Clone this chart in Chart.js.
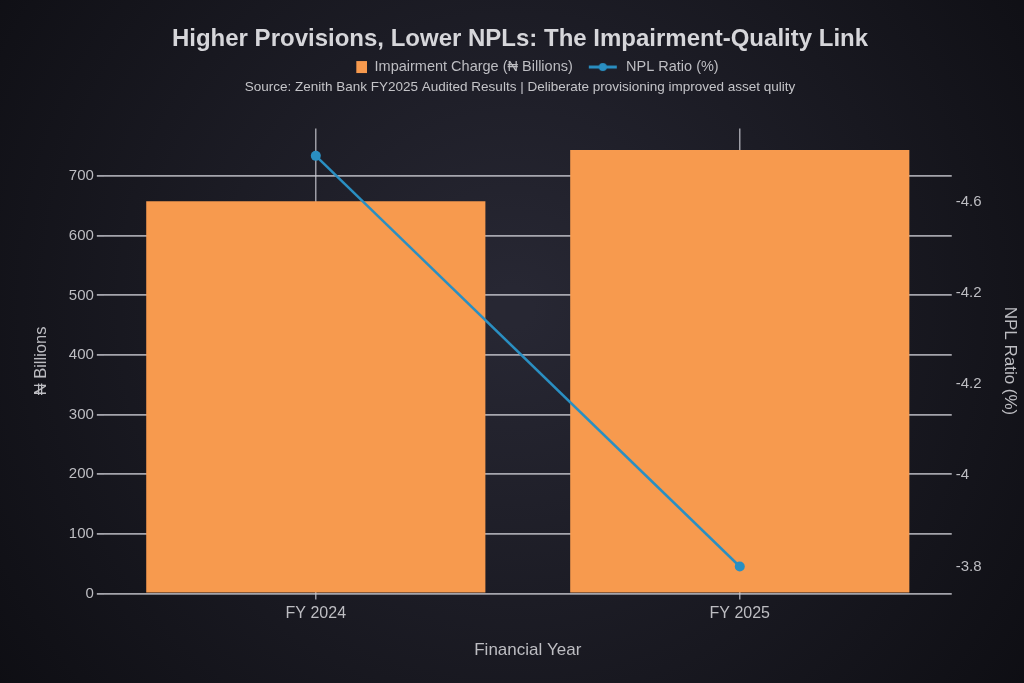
<!DOCTYPE html>
<html>
<head>
<meta charset="utf-8">
<script src="https://cdn.jsdelivr.net/npm/chart.js@4/dist/chart.umd.min.js"></script>
<style>
  html, body { margin: 0; padding: 0; background: #15151c; }
  #wrap { width: 1024px; height: 683px; position: relative; }
</style>
</head>
<body>
<div id="wrap"><canvas id="c" width="1024" height="683"></canvas></div>
<script>
// ---- data ----
const categories = ['FY 2024', 'FY 2025'];
const impairmentCharge = [658, 744];      // ₦ Billions
const nplRatio = [4.7, 3.8];              // %
const leftTickValues = [0, 100, 200, 300, 400, 500, 600, 700];
const rightTickValues = [4.6, 4.4, 4.2, 4.0, 3.8];
const rightTickLabels = ['-4.6', '-4.2', '-4.2', '-4', '-3.8'];

const ORANGE = '#F79A4E';
const BLUE = '#2A8FC2';
const TEXT = '#bdbdc2';
const FONT = 'Liberation Sans';

function makeIcon(kind) {
  const cv = document.createElement('canvas');
  cv.width = 46; cv.height = 14;
  const g = cv.getContext('2d');
  if (kind === 'bar') {
    g.fillStyle = ORANGE; g.fillRect(35, 1, 11, 12);
  } else {
    g.strokeStyle = BLUE; g.lineWidth = 3;
    g.beginPath(); g.moveTo(16, 7); g.lineTo(44, 7); g.stroke();
    g.fillStyle = BLUE; g.beginPath(); g.arc(30, 7, 4, 0, Math.PI * 2); g.fill();
  }
  return cv;
}
const icons = { bar: makeIcon('bar'), line: makeIcon('line') };

const bgPlugin = {
  id: 'bg',
  beforeDraw(chart) {
    const {ctx, width, height} = chart;
    const g = ctx.createRadialGradient(width * 0.5, height * 0.45, 20, width * 0.5, height * 0.45, width * 0.65);
    g.addColorStop(0, '#272733');
    g.addColorStop(1, '#0d0d12');
    ctx.save();
    ctx.fillStyle = g;
    ctx.fillRect(0, 0, width, height);
    ctx.restore();
  }
};

new Chart(document.getElementById('c'), {
  data: {
    labels: categories,
    datasets: [
      {
        type: 'line',
        label: 'NPL Ratio (%)',
        data: nplRatio,
        yAxisID: 'y1',
        borderColor: BLUE,
        backgroundColor: BLUE,
        borderWidth: 2.5,
        pointRadius: 5,
        pointBackgroundColor: BLUE,
        pointBorderWidth: 0,
        order: 0
      },
      {
        type: 'bar',
        label: 'Impairment Charge (₦ Billions)',
        data: impairmentCharge,
        yAxisID: 'y',
        backgroundColor: ORANGE,
        borderWidth: 0,
        barPercentage: 0.8,
        categoryPercentage: 1.0,
        order: 1
      }
    ]
  },
  options: {
    responsive: false,
    animation: false,
    layout: { padding: { left: 16, right: 0, top: 12, bottom: 22 } },
    plugins: {
      title: {
        display: true,
        text: 'Higher Provisions, Lower NPLs: The Impairment-Quality Link',
        color: '#d6d6da',
        font: { family: FONT, size: 24, weight: 'bold' },
        padding: { top: 13, bottom: 6 }
      },
      legend: {
        display: true,
        weight: 1700,
        labels: {
          color: TEXT,
          font: { family: FONT, size: 14.5 },
          usePointStyle: true,
          pointStyleWidth: 46,
          boxHeight: 12,
          padding: 0,
          generateLabels(chart) {
            const items = Chart.defaults.plugins.legend.labels.generateLabels(chart);
            items.forEach(it => {
              it.pointStyle = it.datasetIndex === 1 ? icons.bar : icons.line;
            });
            items.sort((a, b) => b.datasetIndex - a.datasetIndex);
            return items;
          }
        }
      },
      subtitle: {
        display: true,
        text: 'Source: Zenith Bank FY2025 Audited Results | Deliberate provisioning improved asset qulity',
        color: '#c4c4c8',
        font: { family: FONT, size: 13.5 },
        padding: { top: -5, bottom: 33 }
      },
      tooltip: { enabled: false }
    },
    scales: {
      x: {
        offset: true,
        grid: {
          offset: false,
          color: 'rgba(200,200,208,0.75)',
          lineWidth: 1.5,
          drawTicks: true,
          tickLength: 6
        },
        border: { display: false },
        ticks: { color: TEXT, font: { family: FONT, size: 16 }, padding: 5 },
        title: {
          display: true,
          text: 'Financial Year',
          color: TEXT,
          font: { family: FONT, size: 17 },
          padding: { top: 12, bottom: 0 }
        }
      },
      y: {
        position: 'left',
        min: 0,
        max: 780,
        afterBuildTicks(axis) { axis.ticks = leftTickValues.map(v => ({ value: v })); },
        grid: {
          color: 'rgba(200,200,208,0.8)',
          lineWidth: 1.8,
          tickLength: 7
        },
        border: { display: false },
        ticks: { color: TEXT, font: { family: FONT, size: 15 }, padding: 3 },
        title: {
          display: true,
          text: '₦ Billions',
          color: TEXT,
          font: { family: FONT, size: 16.5 },
          padding: { top: 16, bottom: 14 }
        }
      },
      y1: {
        position: 'right',
        min: 3.741,
        max: 4.76,
        afterBuildTicks(axis) { axis.ticks = rightTickValues.map(v => ({ value: v })); },
        grid: { display: false, drawOnChartArea: false, drawTicks: false },
        border: { display: false },
        ticks: {
          color: TEXT,
          font: { family: FONT, size: 15 },
          padding: 4,
          callback(value) {
            const i = rightTickValues.findIndex(v => Math.abs(v - value) < 1e-6);
            return i >= 0 ? rightTickLabels[i] : '';
          }
        },
        title: {
          display: true,
          text: 'NPL Ratio (%)',
          color: TEXT,
          font: { family: FONT, size: 17 },
          padding: { top: 4, bottom: 14 }
        }
      }
    }
  },
  plugins: [bgPlugin]
});
</script>
</body>
</html>
